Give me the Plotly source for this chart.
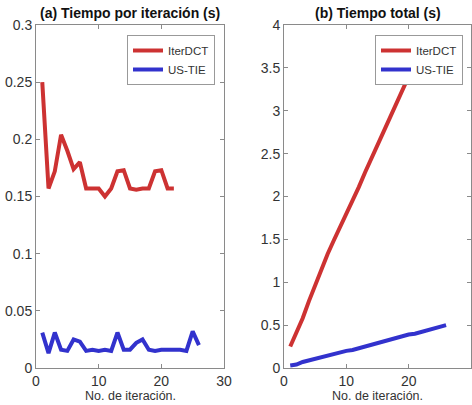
import plotly.graph_objects as go

# Data
iter_dct_x = list(range(1, 23))
iter_dct_per_iter = [0.250, 0.157, 0.172, 0.204, 0.190, 0.174, 0.180, 0.157, 0.157, 0.157,
                     0.150, 0.157, 0.172, 0.173, 0.157, 0.156, 0.157, 0.157, 0.172, 0.173,
                     0.157, 0.157]
us_tie_x = list(range(1, 27))
us_tie_per_iter = [0.031, 0.013, 0.031, 0.016, 0.015, 0.025, 0.023, 0.015, 0.016, 0.015,
                   0.016, 0.015, 0.031, 0.016, 0.016, 0.022, 0.025, 0.016, 0.015, 0.016,
                   0.016, 0.016, 0.016, 0.015, 0.032, 0.020]
iter_dct_total = [0.25, 0.41, 0.58, 0.78, 0.97, 1.15, 1.33, 1.49, 1.64, 1.80,
                  1.95, 2.11, 2.28, 2.45, 2.61, 2.76, 2.92, 3.08, 3.25, 3.42,
                  3.57, 3.72]
us_tie_total = [0.03, 0.04, 0.07, 0.09, 0.10, 0.13, 0.15, 0.17, 0.18, 0.20,
                0.21, 0.23, 0.26, 0.28, 0.29, 0.31, 0.34, 0.36, 0.37, 0.39,
                0.40, 0.42, 0.43, 0.45, 0.48, 0.50]

RED = "#CD3232"
BLUE = "#3232CD"
FONT = "Liberation Sans, Arial, sans-serif"
AXC = "#8a8a8a"
TXT = "#333333"

fig = go.Figure()
fig.add_trace(go.Scatter(x=iter_dct_x, y=iter_dct_per_iter, mode="lines", name="IterDCT",
                         line=dict(color=RED, width=4), xaxis="x", yaxis="y", legend="legend"))
fig.add_trace(go.Scatter(x=us_tie_x, y=us_tie_per_iter, mode="lines", name="US-TIE",
                         line=dict(color=BLUE, width=4), xaxis="x", yaxis="y", legend="legend"))
fig.add_trace(go.Scatter(x=iter_dct_x, y=iter_dct_total, mode="lines", name="IterDCT",
                         line=dict(color=RED, width=4), xaxis="x2", yaxis="y2", legend="legend2"))
fig.add_trace(go.Scatter(x=us_tie_x, y=us_tie_total, mode="lines", name="US-TIE",
                         line=dict(color=BLUE, width=4), xaxis="x2", yaxis="y2", legend="legend2"))

W, H = 472, 405
xd1 = [36 / W, 224 / W]
xd2 = [284 / W, 471 / W]
yd = [(H - 368) / H, (H - 25) / H]

axis_common = dict(showgrid=False, zeroline=False, showline=True, linecolor=AXC, linewidth=1,
                   mirror="ticks", ticks="inside", ticklen=4, tickcolor=AXC, automargin=False,
                   tickfont=dict(family=FONT, size=14, color=TXT))

legend_common = dict(bgcolor="white", bordercolor="#999999", borderwidth=1,
                     font=dict(family=FONT, size=11.5, color=TXT),
                     xanchor="right", yanchor="top", tracegroupgap=0,
                     itemwidth=30)

def label(text, x, y, bold=False, size=14):
    return dict(text=f"<b>{text}</b>" if bold else text, x=x, y=y,
                xref="paper", yref="paper", xanchor="center", yanchor="middle", showarrow=False,
                borderpad=0,
                font=dict(family=FONT, size=size, color="#111111" if bold else TXT))

fig.update_layout(
    width=W, height=H,
    margin=dict(l=0, r=0, t=0, b=0, autoexpand=False),
    paper_bgcolor="white", plot_bgcolor="white",
    xaxis=dict(domain=xd1, range=[0, 30], dtick=10, anchor="y", **axis_common),
    yaxis=dict(domain=yd, range=[0, 0.3], dtick=0.05, anchor="x", **axis_common),
    xaxis2=dict(domain=xd2, range=[0, 30], dtick=10, anchor="y2", **axis_common),
    yaxis2=dict(domain=yd, range=[0, 4], dtick=0.5, anchor="x2", **axis_common),
    legend=dict(x=215 / W, y=(H - 35) / H, **legend_common),
    legend2=dict(x=463 / W, y=(H - 35) / H, **legend_common),
    annotations=[
        label("(a) Tiempo por iteración (s)", (xd1[0] + xd1[1]) / 2, (H - 13) / H, bold=True),
        label("(b) Tiempo total (s)", (xd2[0] + xd2[1]) / 2, (H - 13) / H, bold=True),
        label("No. de iteración.", (xd1[0] + xd1[1]) / 2, (H - 396) / H, size=12.5),
        label("No. de iteración.", (xd2[0] + xd2[1]) / 2, (H - 396) / H, size=12.5),
    ],
    showlegend=True,
)

fig.write_html("out.html")
